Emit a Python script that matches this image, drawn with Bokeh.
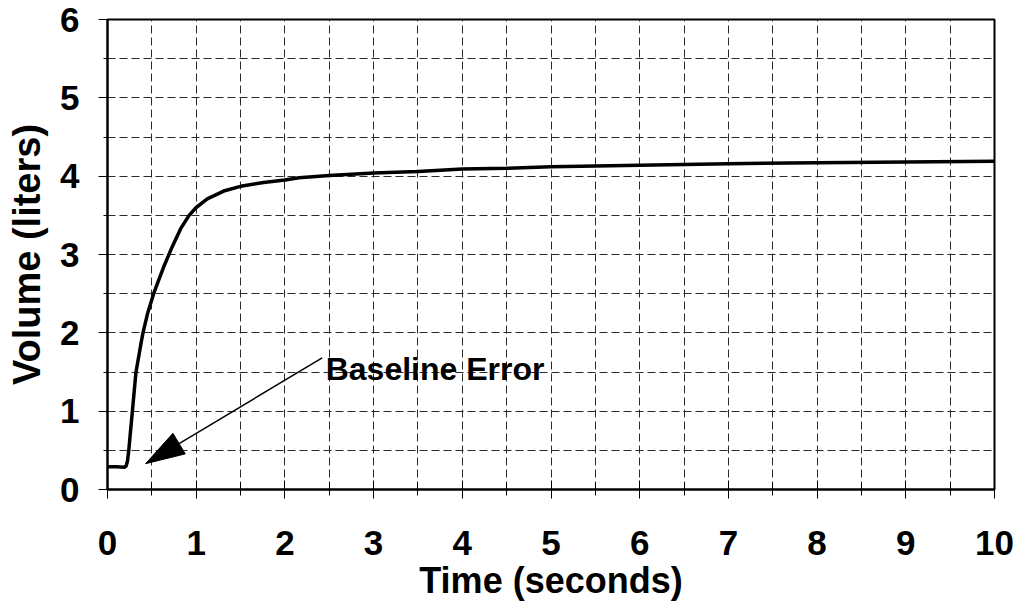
import numpy as np
from bokeh.plotting import figure
from bokeh.models import Range1d, FixedTicker, Label
from bokeh.embed import file_html
from bokeh.resources import INLINE

# ---- data ----
time_s = [0.00, 0.10, 0.19, 0.21, 0.225, 0.24, 0.26, 0.28, 0.32, 0.38, 0.40, 0.45,
          0.52, 0.64, 0.73, 0.825, 0.92, 1.00, 1.125, 1.31, 1.50, 1.76, 2.00, 2.16,
          2.50, 3.00, 3.50, 4.00, 4.50, 5.00, 5.50, 6.00, 6.50, 7.00, 8.00, 9.00, 10.00]
volume_l = [0.29, 0.29, 0.285, 0.30, 0.36, 0.50, 0.75, 0.99, 1.49, 1.88, 2.00, 2.24,
            2.50, 2.86, 3.10, 3.33, 3.50, 3.60, 3.71, 3.81, 3.87, 3.92, 3.95, 3.98,
            4.01, 4.04, 4.06, 4.09, 4.10, 4.12, 4.13, 4.14, 4.15, 4.16, 4.17, 4.18, 4.19]

x_major = [0, 1, 2, 3, 4, 5, 6, 7, 8, 9, 10]
x_minor = [0.5, 1.5, 2.5, 3.5, 4.5, 5.5, 6.5, 7.5, 8.5, 9.5]
y_major = [0, 1, 2, 3, 4, 5, 6]
y_minor = [0.5, 1.5, 2.5, 3.5, 4.5, 5.5]

annot_text = "Baseline Error"
annot_text_pos = (2.46, 1.54)
arrow_tail = (2.42, 1.68)
arrow_tip = (0.43, 0.33)

FONT = "Liberation Sans"
X0, X1, Y0, Y1 = 0, 10, 0, 6
FRAME_W, FRAME_H = 887, 470

p = figure(width=1015, height=611, output_backend="svg", toolbar_location=None,
           x_range=Range1d(X0, X1), y_range=Range1d(Y0, Y1),
           min_border_left=107, min_border_right=21, min_border_top=19,
           min_border_bottom=122)
p.frame_width = FRAME_W
p.frame_height = FRAME_H

p.background_fill_color = "white"
p.border_fill_color = "white"
p.outline_line_color = "black"
p.outline_line_width = 2

xt = FixedTicker(ticks=x_major, minor_ticks=x_minor)
yt = FixedTicker(ticks=y_major, minor_ticks=y_minor)
p.xaxis.ticker = xt
p.yaxis.ticker = yt
p.xgrid.ticker = xt
p.ygrid.ticker = yt

for g in (p.xgrid, p.ygrid):
    g.grid_line_color = "#2a2a2a"
    g.grid_line_width = 1
    g.grid_line_dash = "8 4"
    g.minor_grid_line_color = "#2a2a2a"
    g.minor_grid_line_width = 1
    g.minor_grid_line_dash = "8 4"

for ax in (p.xaxis, p.yaxis):
    ax.axis_line_color = "black"
    ax.axis_line_width = 2
    ax.major_tick_line_color = "black"
    ax.minor_tick_line_color = "black"
    ax.major_tick_line_width = 1
    ax.minor_tick_line_width = 1
    ax.major_label_text_font = FONT
    ax.major_label_text_font_style = "bold"
    ax.major_label_text_font_size = "35px"
    ax.major_label_text_color = "black"
    ax.axis_label_text_font = FONT
    ax.axis_label_text_font_style = "bold"
    ax.axis_label_text_color = "black"

p.xaxis.major_tick_in = 9
p.xaxis.major_tick_out = 9
p.xaxis.minor_tick_in = 7
p.xaxis.minor_tick_out = 6
p.xaxis.major_label_standoff = 32
p.xaxis.axis_label = "Time (seconds)"
p.xaxis.axis_label_text_font_size = "36px"
p.xaxis.axis_label_standoff = 2

p.yaxis.major_tick_in = 0
p.yaxis.major_tick_out = 9
p.yaxis.minor_tick_in = 0
p.yaxis.minor_tick_out = 4
p.yaxis.major_label_standoff = 19
p.yaxis.axis_label = "Volume (liters)"
p.yaxis.axis_label_text_font_size = "38px"
p.yaxis.axis_label_standoff = 9

p.line(time_s, volume_l, line_color="black", line_width=3.5)

# arrow: line plus a filled head, built in screen-pixel space from tip/tail
sx = FRAME_W / (X1 - X0)
sy = FRAME_H / (Y1 - Y0)
tip = np.array([arrow_tip[0] * sx, arrow_tip[1] * sy])
tail = np.array([arrow_tail[0] * sx, arrow_tail[1] * sy])
u = (tail - tip) / np.linalg.norm(tail - tip)
perp = np.array([-u[1], u[0]])
head_len, head_half_w = 39.0, 12.0
base = tip + u * head_len
c1 = base + perp * head_half_w
c2 = base - perp * head_half_w
head_x = [tip[0] / sx, c1[0] / sx, c2[0] / sx]
head_y = [tip[1] / sy, c1[1] / sy, c2[1] / sy]
p.segment(x0=[arrow_tail[0]], y0=[arrow_tail[1]], x1=[base[0] / sx], y1=[base[1] / sy],
          line_color="black", line_width=1.5)
p.patch(head_x, head_y, fill_color="black", line_color="black", line_width=1)

p.add_layout(Label(x=annot_text_pos[0], y=annot_text_pos[1], text=annot_text,
                   text_font=FONT, text_font_style="bold", text_font_size="32px",
                   text_color="black", text_baseline="alphabetic"))

open("out.html", "w").write(file_html(p, INLINE))
